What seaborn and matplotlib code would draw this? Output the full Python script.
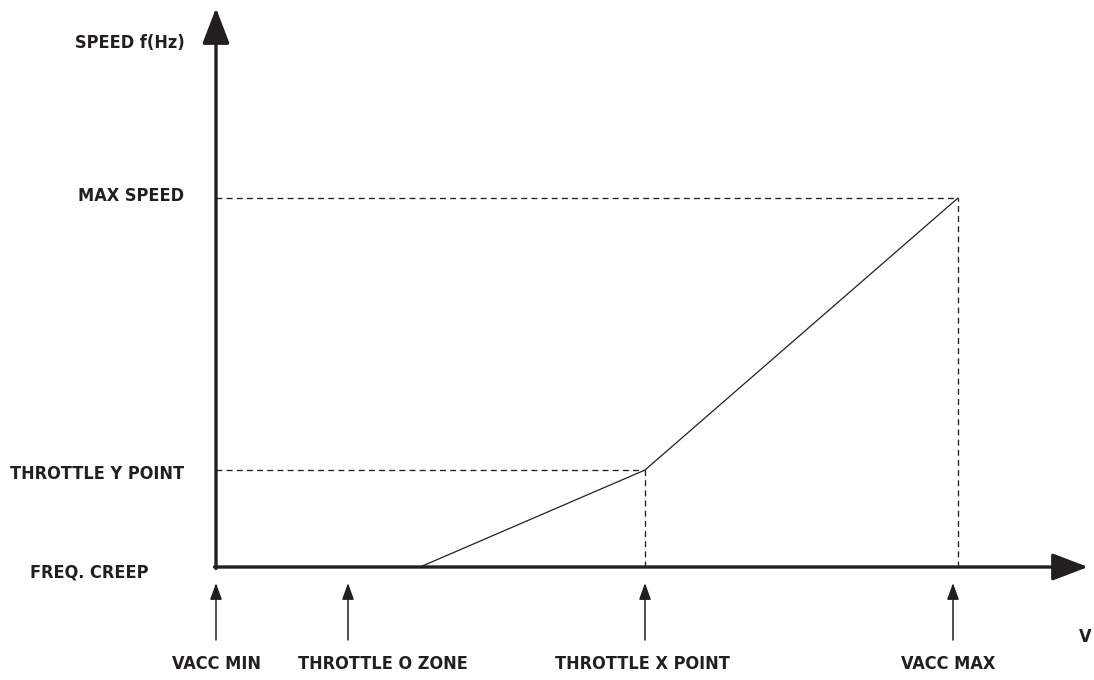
#!/usr/bin/env python3
"""Throttle curve: speed vs accelerator voltage."""

import matplotlib

matplotlib.use("Agg")

import matplotlib.pyplot as plt
import pandas as pd
import seaborn as sns

sns.set_theme(style="white")
plt.rcParams["font.family"] = ["DejaVu Sans"]
plt.rcParams["font.stretch"] = "condensed"

# curve points (x in accelerator units, y in speed units, origin = VACC MIN / FREQ. CREEP)
voltage = [0, 204, 429, 742]
speed = [0, 0, 97, 369]

# level labels on the speed axis
level_names = ["FREQ. CREEP", "THROTTLE Y POINT", "MAX SPEED"]
level_values = [0, 97, 369]

# marker arrows under the voltage axis
marker_names = ["VACC MIN", "THROTTLE O ZONE", "THROTTLE X POINT", "VACC MAX"]
marker_x = [0, 132, 429, 737]
marker_label_x = [0, 167, 426, 732]

X_END = 872
Y_END = 559
INK = "#231f20"
FS = 13

fig = plt.figure(figsize=(10.94, 6.8), dpi=100)
ax = fig.add_axes([0, 0, 1, 1])
ax.set_xlim(-216, 1094 - 216)
ax.set_ylim(-113, 567)
ax.axis("off")

curve = pd.DataFrame({"v": voltage, "f": speed})
sns.lineplot(data=curve, x="v", y="f", color=INK, linewidth=0.9, ax=ax)

# dashed guides for throttle Y point and max speed
for vx, fy in zip(voltage[2:], speed[2:]):
    ax.plot([0, vx], [fy, fy], color=INK, linewidth=0.95, dashes=(4.5, 3.2))
    ax.plot([vx, vx], [0, fy], color=INK, linewidth=0.95, dashes=(4.5, 3.2))

# main axes with arrowheads
big_arrow = dict(arrowstyle="-|>,head_length=1.1,head_width=0.42", color=INK,
                 lw=2.4, mutation_scale=20, shrinkA=0, shrinkB=0)
ax.annotate("", xy=(0, Y_END), xytext=(0, -1.5), arrowprops=big_arrow)
ax.annotate("", xy=(X_END, 0), xytext=(-1.5, 0), arrowprops=big_arrow)

small_arrow = dict(arrowstyle="-|>,head_length=0.5,head_width=0.18", color=INK,
                   lw=1.1, mutation_scale=20, shrinkA=0, shrinkB=0)
for mx, name, lx in zip(marker_x, marker_names, marker_label_x):
    ax.annotate("", xy=(mx, -16), xytext=(mx, -73), arrowprops=small_arrow)
    ax.text(lx, -97, name, ha="center", va="center", fontsize=FS,
            fontweight="bold", color=INK)

label_kw = dict(ha="center", va="center", fontsize=FS, fontweight="bold", color=INK)
ax.text(-86, 524, "SPEED f(Hz)", **label_kw)
ax.text(-84.5, level_values[2] + 2, level_names[2], **label_kw)
ax.text(-118.5, level_values[1] - 4, level_names[1], **label_kw)
ax.text(-126.5, level_values[0] - 6, level_names[0], **label_kw)
ax.text(869, -70, "V", **label_kw)

fig.savefig("out.png", dpi=100)
plt.close(fig)
